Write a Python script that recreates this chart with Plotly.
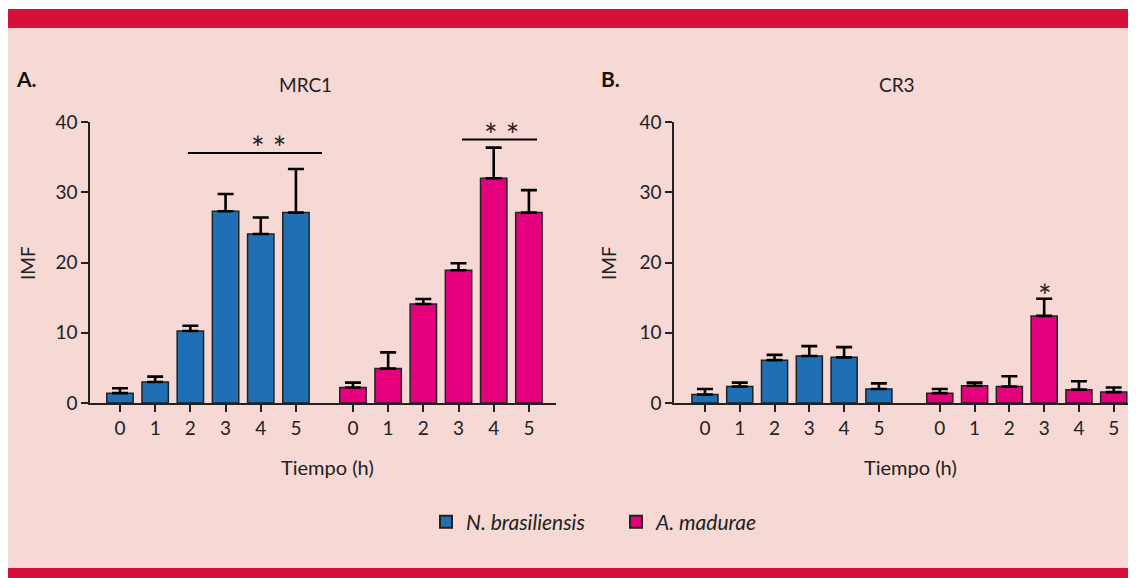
import plotly.graph_objects as go

# ---------------- data ----------------
hours = ["0", "1", "2", "3", "4", "5"]
series_names = ["<i>N. brasiliensis</i>", "<i>A. madurae</i>"]

mrc1_nb = [1.4, 3.0, 10.25, 27.3, 24.05, 27.1]
mrc1_nb_err = [0.7, 0.75, 0.75, 2.45, 2.35, 6.2]
mrc1_am = [2.2, 4.9, 14.1, 18.9, 32.0, 27.1]
mrc1_am_err = [0.7, 2.3, 0.7, 1.0, 4.35, 3.2]

cr3_nb = [1.2, 2.35, 6.1, 6.7, 6.5, 2.0]
cr3_nb_err = [0.8, 0.55, 0.75, 1.4, 1.45, 0.8]
cr3_am = [1.4, 2.45, 2.35, 12.4, 1.9, 1.55]
cr3_am_err = [0.6, 0.45, 1.45, 2.45, 1.2, 0.65]

y_ticks = [0, 10, 20, 30, 40]

# ---------------- style ----------------
BLUE = "#1f6fb4"
PINK = "#e5007d"
BG = "#f6d8d4"
RED = "#d7103a"
INK = "#222222"
FONT = "Lato"

OFF = 8            # page body margin
W, H = 1136 - OFF, 578 - OFF
def px(x):
    return (x - OFF) / W
def py(y):
    return (H - (y - OFF)) / H

gapA = 6.62
gapB = 6.75
xa1 = [i for i in range(6)]
xa2 = [i + gapA for i in range(6)]
xb1 = [i for i in range(6)]
xb2 = [i + gapB for i in range(6)]

fig = go.Figure()

def add_bar(x, y, err, color, name, xaxis, yaxis, show):
    fig.add_trace(go.Bar(
        x=x, y=y, name=name, showlegend=show, legendgroup=name,
        marker=dict(color=color, line=dict(color=INK, width=1.5)),
        width=0.75,
        error_y=dict(type="data", array=err, arrayminus=[0] * len(err),
                     symmetric=False, color="#000000", thickness=2.6, width=8),
        xaxis=xaxis, yaxis=yaxis,
    ))

add_bar(xa1, mrc1_nb, mrc1_nb_err, BLUE, series_names[0], "x", "y", True)
add_bar(xa2, mrc1_am, mrc1_am_err, PINK, series_names[1], "x", "y", True)
add_bar(xb1, cr3_nb, cr3_nb_err, BLUE, series_names[0], "x2", "y2", False)
add_bar(xb2, cr3_am, cr3_am_err, PINK, series_names[1], "x2", "y2", False)

tickfont = dict(family=FONT, size=19, color=INK)
ydom = [py(403), py(122)]

xcommon = dict(showline=True, linecolor=INK, linewidth=1.5, ticks="outside",
               ticklen=7, tickwidth=1.5, tickcolor=INK, showgrid=False,
               zeroline=False, tickfont=tickfont, fixedrange=True,
               automargin=False)
ycommon = dict(showline=True, linecolor=INK, linewidth=1.5, ticks="outside",
               ticklen=7, tickwidth=1.5, tickcolor=INK, showgrid=False,
               zeroline=False, tickfont=tickfont, range=[0, 40],
               tickvals=y_ticks, domain=ydom, automargin=False)

fig.update_layout(
    template="none",
    width=W, height=H,
    margin=dict(l=0, r=0, t=0, b=0, pad=0, autoexpand=False),
    paper_bgcolor="white", plot_bgcolor="rgba(0,0,0,0)",
    barmode="overlay",
    font=dict(family=FONT, color=INK),
    xaxis=dict(**xcommon, anchor="y",
               domain=[px(90), px(556)], range=[-0.852, 12.39],
               tickvals=xa1 + xa2, ticktext=hours + hours),
    yaxis=dict(**ycommon, anchor="x"),
    xaxis2=dict(**xcommon, anchor="y2",
                domain=[px(674), 1.0], range=[-0.89, 12.39],
                tickvals=xb1 + xb2, ticktext=hours + hours),
    yaxis2=dict(**ycommon, anchor="x2"),
    legend=dict(orientation="h", x=px(426), y=py(522), xanchor="left",
                yanchor="middle", font=dict(family=FONT, size=21, color=INK),
                bgcolor="rgba(0,0,0,0)", itemsizing="constant",
                entrywidth=145, entrywidthmode="pixels"),
)

shapes = [
    dict(type="rect", xref="paper", yref="paper", x0=-0.02, x1=1.02, y0=py(568), y1=py(28),
         fillcolor=BG, line=dict(width=0), layer="below"),
    dict(type="rect", xref="paper", yref="paper", x0=-0.02, x1=1.02, y0=py(28), y1=py(9),
         fillcolor=RED, line=dict(width=0), layer="below"),
    dict(type="rect", xref="paper", yref="paper", x0=-0.02, x1=1.02, y0=-0.02, y1=py(568),
         fillcolor=RED, line=dict(width=0), layer="below"),
    # significance lines
    dict(type="line", xref="x", yref="y", x0=1.93, x1=5.74, y0=35.6, y1=35.6,
         line=dict(color="#000000", width=2)),
    dict(type="line", xref="x", yref="y", x0=gapA + 3.1, x1=gapA + 5.23, y0=37.5, y1=37.5,
         line=dict(color="#000000", width=2)),
]
fig.update_layout(shapes=shapes)

def ann(x, y, text, size=19, xanchor="center", angle=0, bold=False):
    fig.add_annotation(x=x, y=y, xref="paper", yref="paper",
                       text=("<b>%s</b>" % text) if bold else text,
                       showarrow=False, xanchor=xanchor, yanchor="middle", textangle=angle,
                       font=dict(family=FONT, size=size, color="#111111" if bold else INK))

ann(px(14), py(78), "A.", size=21, xanchor="left", bold=True)
ann(px(599), py(78), "B.", size=21, xanchor="left", bold=True)
ann(px(305), py(85), "MRC1", size=19)
ann(px(897), py(85), "CR3", size=19)
ann(px(28), py(263), "IMF", size=19, angle=-90)
ann(px(609), py(263), "IMF", size=19, angle=-90)
ann(px(327), py(467), "Tiempo (h)", size=20)
ann(px(911), py(467), "Tiempo (h)", size=20)
# asterisks
ann(px(268), py(147), "* *", size=32)
ann(px(501), py(134), "* *", size=32)
ann(px(1045), py(295), "*", size=32)

fig.write_html("out.html")
